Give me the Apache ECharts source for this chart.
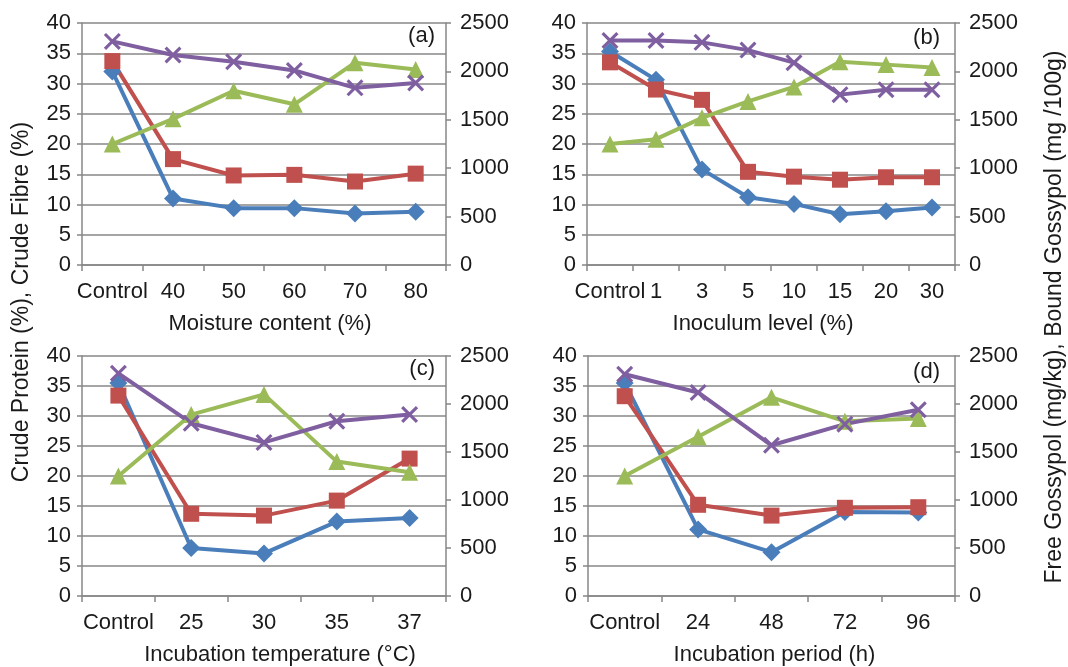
<!DOCTYPE html>
<html>
<head>
<meta charset="utf-8">
<script src="https://cdn.jsdelivr.net/npm/echarts@6/dist/echarts.min.js"></script>
<style>
  html, body { margin: 0; padding: 0; background: #fff; }
  #chart { width: 1068px; height: 667px; }
</style>
</head>
<body>
<div id="chart"></div>
<script>
// (a) moisture content
const catsA = ['Control', '40', '50', '60', '70', '80'];
const proteinA = [32, 11, 9.4, 9.4, 8.5, 8.8];
const fibreA = [33.7, 17.5, 14.8, 14.9, 13.8, 15.1];
const freeA = [1250, 1510, 1800, 1660, 2090, 2020];
const boundA = [2310, 2170, 2100, 2010, 1830, 1880];

// (b) inoculum level
const catsB = ['Control', '1', '3', '5', '10', '15', '20', '30'];
const proteinB = [35.3, 30.6, 15.8, 11.2, 10.1, 8.4, 8.9, 9.5];
const fibreB = [33.5, 29.0, 27.3, 15.4, 14.6, 14.1, 14.5, 14.5];
const freeB = [1250, 1300, 1520, 1690, 1840, 2100, 2070, 2040];
const boundB = [2320, 2320, 2300, 2220, 2090, 1760, 1810, 1810];

// (c) incubation temperature
const catsC = ['Control', '25', '30', '35', '37'];
const proteinC = [35.5, 8.0, 7.1, 12.4, 13.0];
const fibreC = [33.4, 13.7, 13.4, 15.9, 22.9];
const freeC = [1250, 1890, 2100, 1400, 1290];
const boundC = [2320, 1800, 1600, 1820, 1890];

// (d) incubation period
const catsD = ['Control', '24', '48', '72', '96'];
const proteinD = [35.5, 11.1, 7.3, 14.0, 13.9];
const fibreD = [33.3, 15.2, 13.4, 14.7, 14.8];
const freeD = [1250, 1660, 2070, 1820, 1850];
const boundD = [2310, 2120, 1570, 1790, 1940];

const panels = [
  { cats: catsA, p: proteinA, f: fibreA, fr: freeA, b: boundA, name: 'Moisture content (%)', tag: '(a)' },
  { cats: catsB, p: proteinB, f: fibreB, fr: freeB, b: boundB, name: 'Inoculum level (%)', tag: '(b)' },
  { cats: catsC, p: proteinC, f: fibreC, fr: freeC, b: boundC, name: 'Incubation temperature (\u00b0C)', tag: '(c)' },
  { cats: catsD, p: proteinD, f: fibreD, fr: freeD, b: boundD, name: 'Incubation period (h)', tag: '(d)' }
];

const grids = [
  { left: 82, top: 23, width: 364, height: 242 },
  { left: 587, top: 23, width: 368, height: 242 },
  { left: 82, top: 356, width: 364, height: 242 },
  { left: 588, top: 356, width: 367, height: 243 }
];
// where the (a)..(d) tags sit (right edge, middle)
const tagPos = [[435, 36], [940, 38], [435, 369], [940, 372]];
// x-axis titles are not exactly centred under the plots
const nameShift = [6, -8, 16, 3];

const FONT = "'Liberation Sans', Arial, sans-serif";
const TXT = '#1a1a1a';
const GRAY = '#878787';
const crossPath = 'path://M0,1.3 L1.3,0 L10,8.7 L8.7,10 Z M8.7,0 L10,1.3 L1.3,10 L0,8.7 Z';

let xAxis = [], yAxis = [], series = [], graphic = [];

panels.forEach(function (pn, i) {
  const s = nameShift[i];
  xAxis.push({
    type: 'category', gridIndex: i, data: pn.cats,
    name: pn.name, nameLocation: 'middle', nameGap: 48,
    nameTextStyle: {
      fontFamily: FONT, fontSize: 22, color: TXT,
      padding: s > 0 ? [0, 0, 0, 2 * s] : [0, -2 * s, 0, 0]
    },
    axisLine: { lineStyle: { color: GRAY, width: 1.5 } },
    axisTick: { show: true, length: 6, lineStyle: { color: GRAY, width: 1.5 } },
    axisLabel: { fontFamily: FONT, fontSize: 22, color: TXT, margin: 16, interval: 0 }
  });
  yAxis.push({
    type: 'value', gridIndex: i, min: 0, max: 40, interval: 5,
    axisLine: { show: true, lineStyle: { color: GRAY, width: 1.5 } },
    axisTick: { show: true, length: 5, lineStyle: { color: GRAY, width: 1.5 } },
    splitLine: { lineStyle: { color: GRAY, width: 1.5 } },
    axisLabel: { fontFamily: FONT, fontSize: 22, color: TXT, margin: 11 }
  });
  yAxis.push({
    type: 'value', gridIndex: i, position: 'right', min: 0, max: 2500, interval: 500,
    axisLine: { show: true, lineStyle: { color: GRAY, width: 1.5 } },
    axisTick: { show: true, length: 5, lineStyle: { color: GRAY, width: 1.5 } },
    splitLine: { show: false },
    axisLabel: { fontFamily: FONT, fontSize: 22, color: TXT, margin: 14, formatter: function (v) { return String(v); } }
  });
  const base = { type: 'line', xAxisIndex: i, smooth: false, lineStyle: { width: 4 }, z: 3 };
  series.push(Object.assign({}, base, {
    name: 'Crude Protein', yAxisIndex: 2 * i, data: pn.p,
    symbol: 'diamond', symbolSize: 18, color: '#4a7ebb'
  }));
  series.push(Object.assign({}, base, {
    name: 'Crude Fibre', yAxisIndex: 2 * i, data: pn.f,
    symbol: 'rect', symbolSize: 16, color: '#c0504d'
  }));
  series.push(Object.assign({}, base, {
    name: 'Free Gossypol', yAxisIndex: 2 * i + 1, data: pn.fr,
    symbol: 'triangle', symbolSize: 17, color: '#9bbb59'
  }));
  series.push(Object.assign({}, base, {
    name: 'Bound Gossypol', yAxisIndex: 2 * i + 1, data: pn.b,
    symbol: crossPath, symbolSize: 17, color: '#7f5fa0'
  }));
  graphic.push({
    type: 'text', x: tagPos[i][0], y: tagPos[i][1],
    style: { text: pn.tag, fontFamily: FONT, fontSize: 22, fill: TXT, align: 'right', verticalAlign: 'middle' }
  });
});

graphic.push({
  type: 'text', x: 22, y: 302, rotation: Math.PI / 2,
  style: { text: 'Crude Protein (%), Crude Fibre (%)', fontFamily: FONT, fontSize: 23, fill: TXT, align: 'center', verticalAlign: 'middle' }
});
graphic.push({
  type: 'text', x: 1055, y: 317, rotation: Math.PI / 2,
  style: { text: 'Free Gossypol (mg/kg), Bound Gossypol (mg /100g)', fontFamily: FONT, fontSize: 23, fill: TXT, align: 'center', verticalAlign: 'middle' }
});

const chart = echarts.init(document.getElementById('chart'), null, { renderer: 'canvas' });
chart.setOption({
  animation: false,
  backgroundColor: '#fff',
  grid: grids,
  xAxis: xAxis,
  yAxis: yAxis,
  series: series,
  graphic: graphic
});
</script>
</body>
</html>
